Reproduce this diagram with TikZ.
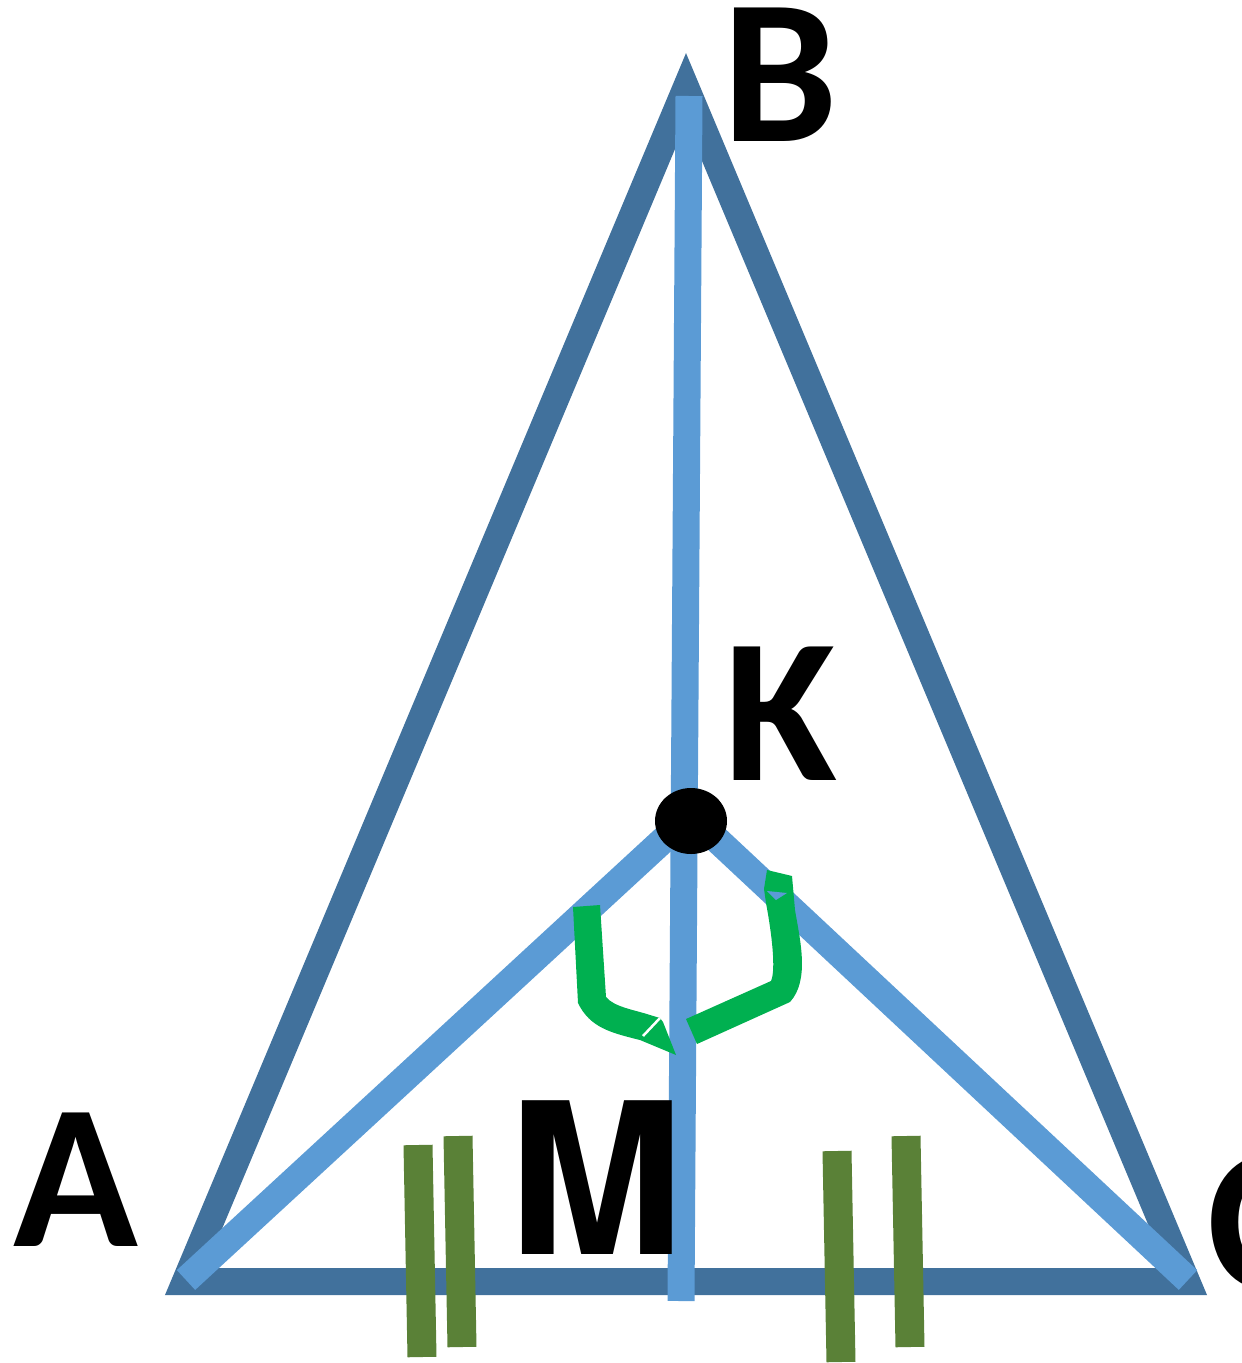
\documentclass[tikz,border=0pt]{standalone}
\usepackage{fontspec}
\setmainfont{Carlito}
\newfontfamily\midfont{TeX Gyre Heros}
\usetikzlibrary{shapes.geometric, positioning, calc}
\definecolor{sideblue}{HTML}{41719C}
\definecolor{cevablue}{HTML}{5B9BD5}
\definecolor{anglegreen}{HTML}{00B050}
\definecolor{tallygreen}{HTML}{5A8137}
\begin{document}
\begin{tikzpicture}[
    x=1pt, y=-1pt,
    side/.style={draw=sideblue, line width=27pt, line join=miter},
    ceva/.style={draw=cevablue, line width=27pt},
    tally/.style={draw=tallygreen, line width=29pt},
    anglemark/.style={fill=anglegreen, draw=none},
    vertexlabel/.style={font=\bfseries\fontsize{206}{206}\selectfont, inner sep=0pt, anchor=base west},
    midlabel/.style={font=\midfont\bfseries\fontsize{211}{211}\selectfont, inner sep=0pt, anchor=base west}
]
    \useasboundingbox (0,0) rectangle (1242,1363);

    % Triangle corners
    \coordinate (a) at (185.3,1281.5);
    \coordinate (b) at (686,88);
    \coordinate (c) at (1186.7,1281.5);
    \draw[side] (a) -- (b) -- (c) -- cycle;

    % Lines through K
    \coordinate (kleft) at (672,832);
    \coordinate (kright) at (712,835);
    \coordinate (btop) at (689,96);
    \coordinate (mbottom) at (681,1301);
    \coordinate (afoot) at (186,1280);
    \coordinate (cfoot) at (1188,1280);
    \draw[ceva] (btop) -- (mbottom);
    \draw[ceva] (afoot) -- (kleft);
    \draw[ceva] (cfoot) -- (kright);

    % Point K
    \node[fill=black, ellipse, minimum width=72pt, minimum height=66pt, inner sep=0pt] (k) at (691,821) {};

    % Left angle mark
    \path[anglemark] (573,907) -- (600,905) -- (606,997)
        .. controls (614,1007) and (635,1010) .. (650,1015)
        -- (660,1018) -- (663,1022) -- (676,1055) -- (640,1040)
        .. controls (612,1033) and (590,1028) .. (578,1003) -- cycle;
    \draw[white, line width=2.5pt] (643,1036) -- (660,1018);

    % Right angle mark
    \path[anglemark] (686,1019) -- (771,981)
        .. controls (776,970) and (772,935) .. (766,903)
        -- (764,889) -- (767,870) -- (792,876) -- (795,910)
        .. controls (800,940) and (810,980) .. (790,1002)
        -- (697,1044) -- cycle;
    \fill[cevablue] (767,891) -- (787,893) -- (776,900) -- cycle;

    % Equal marks
    \coordinate (tonea) at (418,1145);
    \coordinate (toneb) at (422,1357);
    \coordinate (ttwoa) at (458,1136);
    \coordinate (ttwob) at (462,1347);
    \coordinate (tthreea) at (837,1151);
    \coordinate (tthreeb) at (841,1362);
    \coordinate (tfoura) at (906,1136);
    \coordinate (tfourb) at (910,1347);
    \draw[tally] (tonea) -- (toneb);
    \draw[tally] (ttwoa) -- (ttwob);
    \draw[tally] (tthreea) -- (tthreeb);
    \draw[tally] (tfoura) -- (tfourb);

    % Labels
    \node[vertexlabel] (labelb) at (722.5,141) {B};
    \node[vertexlabel] (labelk) at (724,780) {K};
    \node[vertexlabel] (labela) at (13.5,1246) {A};
    \node[vertexlabel] (labelc) at (1207,1289) {C};
    \node[midlabel] (labelm) at (508,1254) {M};
\end{tikzpicture}
\end{document}
